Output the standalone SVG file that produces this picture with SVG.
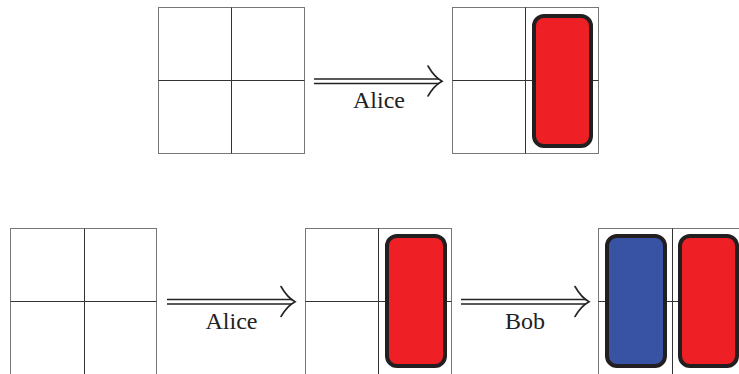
<svg xmlns="http://www.w3.org/2000/svg" width="739" height="374" viewBox="0 0 739 374">
<style>
.outer{fill:#fff;stroke:#777;stroke-width:1}
.inner{stroke:#333;stroke-width:1}
.tok{stroke:#231f20;stroke-width:4}
.red{fill:#ee1f25}
.blue{fill:#3953a4}
.shaft{stroke:#222;stroke-width:1.3;fill:none}
.head{stroke:#222;stroke-width:1.6;fill:none;stroke-linecap:round}
.lbl{font-family:"Liberation Serif",serif;font-size:24px;fill:#222;text-anchor:middle}
</style>
<rect width="739" height="374" fill="#fff"/>
<g id="grid-top-left">
<rect class="outer" x="158.5" y="7.5" width="146" height="146"/>
<line class="inner" x1="231.5" y1="7.5" x2="231.5" y2="153.5"/>
<line class="inner" x1="158.5" y1="80.5" x2="304.5" y2="80.5"/>
</g>
<g id="grid-top-right">
<rect class="outer" x="452.5" y="7.5" width="146" height="146"/>
<line class="inner" x1="525.5" y1="7.5" x2="525.5" y2="153.5"/>
<line class="inner" x1="452.5" y1="80.5" x2="598.5" y2="80.5"/>
<rect class="tok red" x="534" y="16" width="57" height="130" rx="10"/>
</g>
<g id="grid-bottom-left">
<rect class="outer" x="10.5" y="228.5" width="146" height="146"/>
<line class="inner" x1="84.5" y1="228.5" x2="84.5" y2="374.5"/>
<line class="inner" x1="10.5" y1="301.5" x2="156.5" y2="301.5"/>
</g>
<g id="grid-bottom-middle">
<rect class="outer" x="305.5" y="228.5" width="146" height="146"/>
<line class="inner" x1="378.5" y1="228.5" x2="378.5" y2="374.5"/>
<line class="inner" x1="305.5" y1="301.5" x2="451.5" y2="301.5"/>
<rect class="tok red" x="387" y="236" width="58" height="130" rx="10"/>
</g>
<g id="grid-bottom-right">
<rect class="outer" x="598.5" y="228.5" width="146" height="146"/>
<line class="inner" x1="672.5" y1="228.5" x2="672.5" y2="374.5"/>
<line class="inner" x1="598.5" y1="301.5" x2="744.5" y2="301.5"/>
<rect class="tok blue" x="607" y="236" width="58" height="130" rx="10"/>
<rect class="tok red" x="680" y="236" width="57" height="130" rx="10"/>
</g>
<g id="connectors">
<g id="arrow-top">
<line class="shaft" x1="314" y1="79" x2="439" y2="79"/>
<line class="shaft" x1="314" y1="83.5" x2="439" y2="83.5"/>
<path class="head" d="M428,66 C432,73 436,78 442,81.2 C436,84.5 432,89 428,96"/>
<text class="lbl" x="379" y="108">Alice</text>
</g>
<g id="arrow-bottom-alice">
<line class="shaft" x1="167" y1="299.5" x2="292" y2="299.5"/>
<line class="shaft" x1="167" y1="304" x2="292" y2="304"/>
<path class="head" d="M281,286.5 C285,293.5 289,298.5 295,301.7 C289,305 285,309.5 281,316.5"/>
<text class="lbl" x="231.5" y="328.5">Alice</text>
</g>
<g id="arrow-bottom-bob">
<line class="shaft" x1="461" y1="299.5" x2="586" y2="299.5"/>
<line class="shaft" x1="461" y1="304" x2="586" y2="304"/>
<path class="head" d="M575,286.5 C579,293.5 583,298.5 589,301.7 C583,305 579,309.5 575,316.5"/>
<text class="lbl" x="525" y="328.5">Bob</text>
</g>
</g>
</svg>
